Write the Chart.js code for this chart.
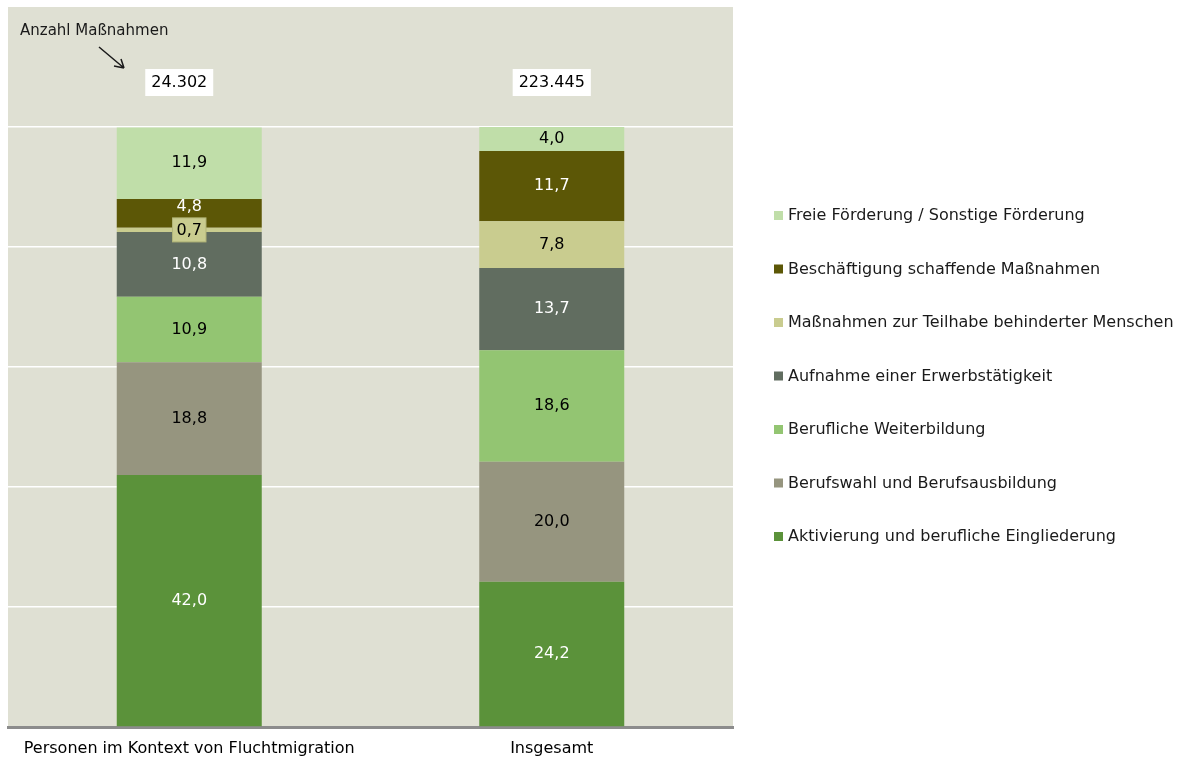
<!DOCTYPE html>
<html lang="de">
<head>
<meta charset="utf-8">
<title>Maßnahmen nach Art</title>
<script src="https://cdn.jsdelivr.net/npm/chart.js@4.4.1/dist/chart.umd.min.js"></script>
<style>
    html, body { margin: 0; padding: 0; background: #ffffff; }
    #wrap { width: 1180px; height: 760px; }
</style>
</head>
<body>
<div id="wrap"><canvas id="chart" width="1180" height="760"></canvas></div>
<script>
// categories (x axis)
const categories = ['Personen im Kontext von Fluchtmigration', 'Insgesamt'];
// total number of measures shown above each bar
const totals = ['24.302', '223.445'];
const noteText = 'Anzahl Maßnahmen';

// series, bottom to top (percent)
const seriesNames = [
    'Aktivierung und berufliche Eingliederung',
    'Berufswahl und Berufsausbildung',
    'Berufliche Weiterbildung',
    'Aufnahme einer Erwerbstätigkeit',
    'Maßnahmen zur Teilhabe behinderter Menschen',
    'Beschäftigung schaffende Maßnahmen',
    'Freie Förderung / Sonstige Förderung'
];
const aktivierung   = [42.0, 24.2];
const berufswahl    = [18.8, 20.0];
const weiterbildung = [10.9, 18.6];
const aufnahme      = [10.8, 13.7];
const teilhabe      = [0.7, 7.8];
const beschaeftigung = [4.8, 11.7];
const freie         = [11.9, 4.0];

const seriesValues = [aktivierung, berufswahl, weiterbildung, aufnahme, teilhabe, beschaeftigung, freie];
const seriesColors = ['#5b923a', '#96957f', '#93c572', '#616d60', '#c9cc8f', '#5c5706', '#c0dea9'];
const labelColors  = ['#ffffff', '#000000', '#000000', '#ffffff', '#000000', '#ffffff', '#000000'];

const FONT = '"DejaVu Sans", Verdana, sans-serif';

function fmt(v) {
    return v.toFixed(1).replace('.', ',');
}

// plot background
const bgPlugin = {
    id: 'plotBg',
    beforeDraw(chart) {
        const { ctx, chartArea: a } = chart;
        ctx.save();
        ctx.fillStyle = '#dfe0d3';
        ctx.fillRect(a.left, a.top, a.right - a.left, a.bottom - a.top);
        ctx.restore();
    }
};

// value labels inside the segments
const labelPlugin = {
    id: 'segLabels',
    afterDatasetsDraw(chart) {
        const ctx = chart.ctx;
        ctx.save();
        ctx.font = '16px ' + FONT;
        ctx.textAlign = 'center';
        ctx.textBaseline = 'middle';
        chart.data.datasets.forEach((ds, i) => {
            const meta = chart.getDatasetMeta(i);
            meta.data.forEach((bar, j) => {
                const v = ds.data[j];
                let y = (bar.y + bar.base) / 2;
                const below = i > 0 ? chart.data.datasets[i - 1].data[j] : null;
                if (below !== null && below < 2) y -= 7;
                if (v < 2) {
                    // small segment: label in a box
                    const w = ctx.measureText(fmt(v)).width + 8;
                    ctx.fillStyle = ds.backgroundColor;
                    ctx.fillRect(bar.x - w / 2, y - 12, w, 24);
                    ctx.strokeStyle = '#b3b679';
                    ctx.lineWidth = 1;
                    ctx.strokeRect(bar.x - w / 2, y - 12, w, 24);
                    y += 1;
                }
                ctx.fillStyle = labelColors[i];
                ctx.fillText(fmt(v), bar.x, y);
            });
        });
        ctx.restore();
    }
};

// totals boxes and the note with arrow
const totalsPlugin = {
    id: 'totals',
    afterDraw(chart) {
        const ctx = chart.ctx;
        const xs = chart.scales.x, ys = chart.scales.y;
        ctx.save();
        ctx.font = '16px ' + FONT;
        ctx.textAlign = 'center';
        ctx.textBaseline = 'middle';
        const yy = ys.getPixelForValue(107.5);
        totals.forEach((t, i) => {
            const x = xs.getPixelForValue(i) - (i === 0 ? 10 : 0);
            const w = ctx.measureText(t).width + 12;
            ctx.fillStyle = '#ffffff';
            ctx.fillRect(x - w / 2, yy - 13, w, 27);
            ctx.fillStyle = '#000000';
            ctx.fillText(t, x, yy + 1);
        });
        // note
        ctx.font = '15px ' + FONT;
        ctx.textAlign = 'left';
        ctx.fillStyle = '#1a1a1a';
        ctx.fillText(noteText, 20, 31);
        // arrow
        ctx.strokeStyle = '#1a1a1a';
        ctx.lineWidth = 1.5;
        ctx.beginPath();
        ctx.moveTo(99, 47);
        ctx.lineTo(124, 68);
        ctx.moveTo(124, 68);
        ctx.lineTo(114, 66);
        ctx.moveTo(124, 68);
        ctx.lineTo(121, 59);
        ctx.stroke();
        ctx.restore();
    }
};

// legend on the right, top item = last series
const legendPlugin = {
    id: 'sideLegend',
    afterDraw(chart) {
        const ctx = chart.ctx;
        ctx.save();
        ctx.font = '16px ' + FONT;
        ctx.textAlign = 'left';
        ctx.textBaseline = 'middle';
        const n = chart.data.datasets.length;
        for (let k = 0; k < n; k++) {
            const ds = chart.data.datasets[n - 1 - k];
            const y = 216 + k * 53.5;
            ctx.fillStyle = ds.backgroundColor;
            ctx.fillRect(774, y - 5, 9, 9);
            ctx.fillStyle = '#1a1a1a';
            ctx.fillText(ds.label, 788, y);
        }
        ctx.restore();
    }
};

const ctx = document.getElementById('chart').getContext('2d');
const chart = new Chart(ctx, {
    type: 'bar',
    data: {
        labels: categories,
        datasets: seriesNames.map((name, i) => ({
            label: name,
            data: seriesValues[i],
            backgroundColor: seriesColors[i],
            borderWidth: 0,
            categoryPercentage: 1.0,
            barPercentage: 0.4
        }))
    },
    options: {
        responsive: false,
        animation: false,
        devicePixelRatio: 1,
        layout: { padding: { left: 8, right: 447, top: 7, bottom: -11 } },
        plugins: {
            legend: { display: false },
            tooltip: { enabled: false }
        },
        scales: {
            x: {
                stacked: true,
                grid: { display: false, drawTicks: false },
                border: { display: true, color: '#8c8c8c', width: 3 },
                ticks: { color: '#000000', font: { family: FONT, size: 16, lineHeight: 1 }, padding: 14, maxRotation: 0 }
            },
            y: {
                stacked: true,
                min: 0,
                max: 120,
                display: true,
                grid: {
                    drawTicks: false,
                    color: (c) => (c.tick && c.tick.value > 0 && c.tick.value <= 100) ? '#ffffff' : 'rgba(0,0,0,0)',
                    lineWidth: 1.5
                },
                border: { display: false },
                ticks: { display: false, stepSize: 20 }
            }
        }
    },
    plugins: [bgPlugin, labelPlugin, totalsPlugin, legendPlugin]
});
</script>
</body>
</html>
